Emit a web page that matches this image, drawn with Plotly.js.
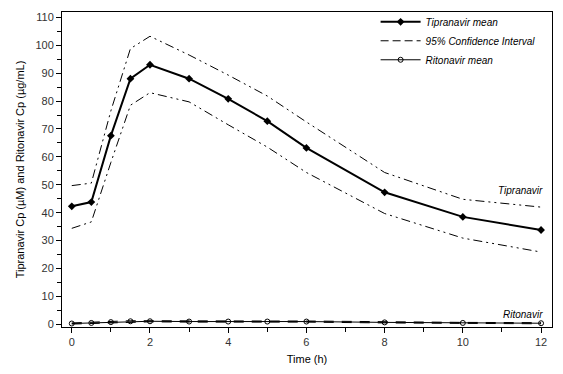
<!DOCTYPE html>
<html><head><meta charset="utf-8">
<script src="https://cdn.plot.ly/plotly-3.0.1.min.js"></script>
<style>html,body{margin:0;padding:0;background:#fff}#chart{width:563px;height:374px}</style>
</head><body><div id="chart"></div>
<script>
const times = [0, 0.5, 1, 1.5, 2, 3, 4, 5, 6, 8, 10, 12];
const tipMean = [42.3, 43.8, 67.6, 88.0, 93.0, 88.0, 80.8, 72.8, 63.2, 47.3, 38.5, 33.8];
const tipUpper = [49.7, 50.6, 76.5, 98.8, 103.2, 96.5, 89.3, 81.8, 72.5, 54.4, 44.8, 42.0];
const tipLower = [34.4, 36.7, 58.0, 78.5, 83.0, 79.7, 71.5, 63.5, 54.4, 39.7, 30.9, 25.9];
const ritMean = [0.3, 0.5, 0.8, 1.1, 1.1, 1.0, 1.0, 1.0, 1.0, 0.7, 0.5, 0.4];
const ritUpper = [0.5, 0.8, 1.1, 1.3, 1.3, 1.2, 1.2, 1.2, 1.2, 0.9, 0.7, 0.6];
const ritLower = [0.1, 0.3, 0.6, 0.9, 0.9, 0.8, 0.8, 0.8, 0.8, 0.5, 0.3, 0.2];

const ciDash = '9px,4px,2px,4px,2px,4px';
const traces = [
  {x: times, y: tipUpper, mode: 'lines', line: {color: '#000', width: 1, dash: ciDash}, showlegend: false, hoverinfo: 'skip'},
  {x: times, y: tipLower, mode: 'lines', line: {color: '#000', width: 1, dash: ciDash}, showlegend: false, hoverinfo: 'skip'},
  {x: times, y: ritUpper, mode: 'lines', line: {color: '#000', width: 1, dash: '10px,8px'}, showlegend: false, hoverinfo: 'skip'},
  {x: times, y: ritLower, mode: 'lines', line: {color: '#000', width: 1, dash: '10px,8px'}, showlegend: false, hoverinfo: 'skip'},
  {x: times, y: tipMean, mode: 'lines+markers', name: '<i>Tipranavir mean</i>',
   line: {color: '#000', width: 2}, marker: {symbol: 'diamond', size: 6, color: '#000'}},
  {x: [null], y: [null], mode: 'lines', name: '<i>95% Confidence Interval</i>',
   line: {color: '#000', width: 1, dash: '8px,4px'}},
  {x: times, y: ritMean, mode: 'lines+markers', name: '<i>Ritonavir mean</i>',
   line: {color: '#000', width: 1}, marker: {symbol: 'circle-open', size: 5, color: '#000', line: {width: 1, color: '#000'}}}
];

const layout = {
  width: 563, height: 374,
  margin: {l: 62, r: 11, t: 7, b: 47},
  paper_bgcolor: '#fff', plot_bgcolor: '#fff',
  font: {family: 'Liberation Sans, Arial, sans-serif', size: 11, color: '#333'},
  showlegend: true,
  legend: {x: 0.64, y: 1.015, xanchor: 'left', yanchor: 'top', bgcolor: 'rgba(0,0,0,0)',
    font: {size: 10, color: '#000'}, tracegroupgap: 0, itemwidth: 40},
  xaxis: {
    range: [-0.25, 12.28], tickvals: [0, 2, 4, 6, 8, 10, 12],
    ticks: 'outside', ticklen: 5, tickcolor: '#000',
    minor: {dtick: 1, ticks: 'outside', ticklen: 4, tickcolor: '#000'},
    showline: true, linecolor: '#000', linewidth: 1, mirror: true,
    showgrid: false, zeroline: false,
    title: {text: 'Time (h)', font: {size: 11, color: '#000'}, standoff: 8}
  },
  yaxis: {
    range: [-0.95, 111.9], dtick: 10, tick0: 0,
    ticks: 'outside', ticklen: 5, tickcolor: '#000',
    minor: {dtick: 5, ticks: 'outside', ticklen: 4, tickcolor: '#000'},
    showline: true, linecolor: '#000', linewidth: 1, mirror: true,
    showgrid: false, zeroline: false,
    title: {text: 'Tipranavir Cp (µM) and Ritonavir Cp (µg/mL)', font: {size: 11, color: '#000'}, standoff: 8}
  },
  annotations: [
    {x: 12.1, y: 48, xref: 'x', yref: 'y', text: '<i>Tipranavir</i>', showarrow: false, xanchor: 'right', font: {size: 10, color: '#000'}},
    {x: 12.1, y: 3.5, xref: 'x', yref: 'y', text: '<i>Ritonavir</i>', showarrow: false, xanchor: 'right', font: {size: 10, color: '#000'}}
  ]
};
Plotly.newPlot('chart', traces, layout, {displayModeBar: false, staticPlot: true});
</script></body></html>
